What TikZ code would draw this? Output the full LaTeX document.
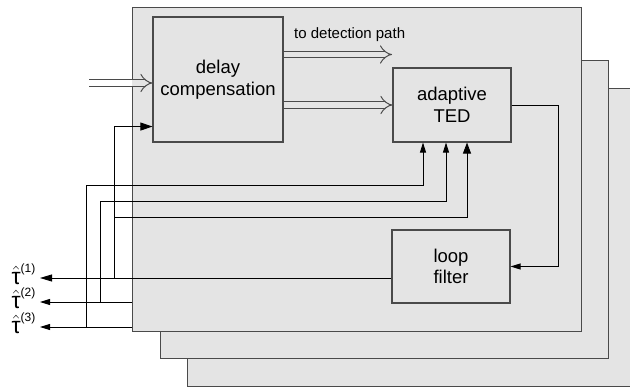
\documentclass[tikz,border=0pt]{standalone}
\usepackage{amsmath}
\usepackage{fontspec}
\setmainfont{Liberation Sans}
\usepackage{tikz}
\usetikzlibrary{arrows.meta,positioning}
\definecolor{panel}{HTML}{E4E4E4}
\definecolor{edge}{HTML}{4A4A4A}
\newcommand{\tauest}[1]{$\hat{\text{τ}}^{\text{\fontsize{12}{12}\selectfont(#1)}}$}

\begin{document}
\begin{tikzpicture}[
    x=1pt, y=-1pt,
    >={Triangle[length=10pt, width=6pt]},
    frame/.style={draw=edge, fill=panel, line width=0.9pt, anchor=north west, inner sep=0pt},
    block/.style={draw=edge, fill=panel, line width=1.1pt, inner sep=0pt, align=center,
        font=\fontsize{18.5}{21.5}\selectfont},
    wire/.style={->, line width=0.9pt},
    bus/.style={draw=edge, line width=1pt, double=panel, double distance=5.5pt, -{Implies[scale=1.5]}},
    lbl/.style={font=\fontsize{15}{17}\selectfont, inner sep=1pt},
    taulbl/.style={font=\fontsize{23}{25}\selectfont, inner sep=0pt, anchor=base east}
]
    \useasboundingbox (0,0) rectangle (630,387);

    % stacked panels, back to front
    \node[frame, minimum width=445pt, minimum height=298pt] (fc) at (187,88) {};
    \node[frame, minimum width=448pt, minimum height=298pt] (fb) at (160,60) {};
    \node[frame, minimum width=449pt, minimum height=324pt] (fa) at (132,7) {};

    \node[block, minimum width=130pt, minimum height=125pt] (delay) at (218,79.5) {delay\\compensation};
    \node[block, minimum width=118pt, minimum height=74pt] (ted) at (452,105) {adaptive\\TED};
    \node[block, minimum width=118pt, minimum height=73pt] (loop) at (451,266.5) {loop\\filter};

    \coordinate (in) at (89,83);
    \coordinate (det) at (392,54.5);
    \coordinate (tedout) at (558,105);
    \coordinate (t1) at (40,278);
    \coordinate (t2) at (40,302);
    \coordinate (t3) at (40,327);
    \coordinate (j1) at (114,278);
    \coordinate (j2) at (100,302);
    \coordinate (j3) at (86,327);
    \coordinate (b1) at (114,217);
    \coordinate (b2) at (100,201);
    \coordinate (b3) at (86,185);
    \coordinate (tedA) at ([xshift=-29pt]ted.south);
    \coordinate (tedB) at ([xshift=-6pt]ted.south);
    \coordinate (tedC) at ([xshift=15pt]ted.south);
    \coordinate (dfb) at ([yshift=16pt]delay.south west);

    % buses
    \draw[bus, double=white, -] (in) -- (in -| fa.west);
    \draw[bus] (in -| fa.west) -- (in -| delay.west);
    \draw[bus] (det -| delay.east) -- (det);
    \draw[bus] (delay.east |- ted.west) -- (ted.west);
    \node[lbl, anchor=base west] (detlbl) at (293,39) {to detection path};

    % loop
    \draw[wire] (ted.east) -- (tedout) |- (loop.east);
    \draw[wire, >={Triangle[length=12pt, width=7pt]}] (loop.west |- t1) -- (t1);
    \draw[wire] (fa.west |- t2) -- (t2);
    \draw[wire] (fa.west |- t3) -- (t3);

    % timing estimates fed back
    \draw[wire, >={Triangle[length=12pt, width=8pt]}] (j1) -- (dfb -| j1) -- (dfb);
    \draw[wire, >={Triangle[length=11pt, width=8pt]}] (b1) -| (tedC);
    \draw[wire] (j2) -- (b2) -| (tedB);
    \draw[wire] (j3) -- (b3) -| (tedA);

    \node[taulbl] (l1) at (36,285) {\tauest{1}};
    \node[taulbl] (l2) at (36,309) {\tauest{2}};
    \node[taulbl] (l3) at (36,334) {\tauest{3}};
\end{tikzpicture}
\end{document}
